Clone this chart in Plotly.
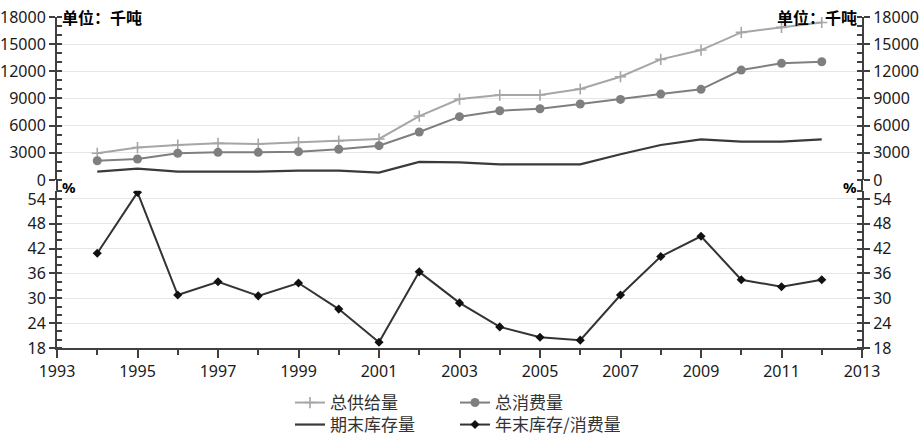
import plotly.graph_objects as go

years = list(range(1994, 2013))
supply = [2950, 3580, 3860, 4050, 3970, 4160, 4300, 4530, 7060, 8940, 9380, 9380,
          10050, 11400, 13320, 14350, 16300, 16850, 17400]
consumption = [2130, 2320, 2950, 3050, 3050, 3130, 3390, 3790, 5300, 6990, 7650, 7870,
               8390, 8900, 9490, 10010, 12140, 12880, 13060]
inventory = [920, 1250, 920, 920, 920, 1030, 1030, 810, 1990, 1950, 1730, 1730,
             1730, 2840, 3860, 4490, 4230, 4230, 4490]
ratio = [40.9, 55.6, 30.8, 34.0, 30.6, 33.7, 27.4, 19.4, 36.4, 28.9, 23.1, 20.6,
         19.9, 30.8, 40.1, 45.0, 34.5, 32.8, 34.5]

names = ["总供给量", "总消费量", "期末库存量", "年末库存/消费量"]
unit_label = "单位：千吨"
pct_label = "%"

FONT = "Noto Sans, Open Sans, Liberation Sans, sans-serif"
CJK = "Noto Sans CJK SC, sans-serif"
AX = "#404040"

fig = go.Figure()
fig.add_trace(go.Scatter(x=years, y=supply, name=names[0], mode="lines+markers",
                         line=dict(color="#a6a6a6", width=2),
                         marker=dict(symbol="cross-thin", size=8, line=dict(color="#a6a6a6", width=1.6)),
                         legend="legend", yaxis="y"))
fig.add_trace(go.Scatter(x=years, y=consumption, name=names[1], mode="lines+markers",
                         line=dict(color="#7f7f7f", width=2),
                         marker=dict(symbol="circle", size=9, color="#7f7f7f"),
                         legend="legend", yaxis="y"))
fig.add_trace(go.Scatter(x=years, y=inventory, name=names[2], mode="lines",
                         line=dict(color="#3a3a3a", width=2.2),
                         legend="legend2", yaxis="y"))
fig.add_trace(go.Scatter(x=years, y=ratio, name=names[3], mode="lines+markers",
                         line=dict(color="#333333", width=2),
                         marker=dict(symbol="diamond", size=7, color="#111111"),
                         legend="legend2", yaxis="y2"))
# invisible copies for right-side axes
fig.add_trace(go.Scatter(x=years, y=supply, mode="lines", line=dict(width=0), opacity=0,
                         showlegend=False, hoverinfo="skip", yaxis="y3"))
fig.add_trace(go.Scatter(x=years, y=ratio, mode="lines", line=dict(width=0), opacity=0,
                         showlegend=False, hoverinfo="skip", yaxis="y4"))

top_dom = [0.5076, 1.0]
bot_dom = [0.0, 0.4752]

common_y = dict(showline=True, linecolor=AX, linewidth=2, ticks="outside", ticklen=6,
                tickwidth=2, tickcolor=AX, zeroline=False, tickformat="d",
                tickfont=dict(family=FONT, size=16, color="#1a1a1a"))

legend_common = dict(orientation="h", x=290 / 922, xref="container", xanchor="left",
                     yref="container", yanchor="middle",
                     entrywidth=120, entrywidthmode="pixels", bgcolor="rgba(0,0,0,0)",
                     font=dict(family=CJK, size=17, color="#333333"), itemwidth=30,
                     tracegroupgap=0)

fig.update_layout(
    width=922, height=438,
    margin=dict(l=57, r=60, t=17, b=90, autoexpand=False),
    paper_bgcolor="white", plot_bgcolor="white",
    showlegend=True,
    xaxis=dict(range=[1993, 2013], anchor="y2", tickmode="linear", tick0=1993, dtick=2,
               showline=True, linecolor=AX, linewidth=2, ticks="outside", ticklen=8,
               tickwidth=2, tickcolor=AX, showgrid=False, zeroline=False,
               minor=dict(dtick=1, ticks="outside", ticklen=5, tickwidth=2, tickcolor=AX),
               tickfont=dict(family=FONT, size=16, color="#1a1a1a")),
    yaxis=dict(domain=top_dom, range=[0, 18000], tickmode="linear", tick0=0, dtick=3000,
               showgrid=True, gridcolor="#e6e6e6", gridwidth=1,
               minor=dict(dtick=1000, ticks="inside", ticklen=5, tickwidth=2, tickcolor=AX,
                          showgrid=False),
               **common_y),
    yaxis2=dict(domain=bot_dom, range=[18, 56], tickmode="array",
                tickvals=[18, 24, 30, 36, 42, 48, 54],
                showgrid=True, gridcolor="#e6e6e6", gridwidth=1,
                minor=dict(dtick=2, tick0=18, ticks="inside", ticklen=5, tickwidth=2, tickcolor=AX,
                           showgrid=False),
                **common_y),
    yaxis3=dict(domain=top_dom, range=[0, 18000], overlaying="y", side="right", anchor="x",
                tickmode="linear", tick0=0, dtick=3000, showgrid=False,
                minor=dict(dtick=1000, ticks="inside", ticklen=5, tickwidth=2, tickcolor=AX),
                **common_y),
    yaxis4=dict(domain=bot_dom, range=[18, 56], overlaying="y2", side="right", anchor="x",
                tickmode="array", tickvals=[18, 24, 30, 36, 42, 48, 54], showgrid=False,
                minor=dict(dtick=2, tick0=18, ticks="inside", ticklen=5, tickwidth=2, tickcolor=AX),
                **common_y),
    legend=dict(y=1 - 403 / 438, **legend_common),
    legend2=dict(y=1 - 425 / 438, **legend_common),
)

# continuous vertical axis lines bridging the gap between panels
for xp in (0, 1):
    fig.add_shape(type="line", xref="paper", yref="paper", x0=xp, x1=xp,
                  y0=bot_dom[1], y1=top_dom[0], line=dict(color=AX, width=2))

fig.add_annotation(text=unit_label, xref="paper", yref="paper", x=0.004, y=1.0,
                   xanchor="left", yanchor="middle", showarrow=False,
                   font=dict(family=CJK, size=16, color="#000000", weight="bold"))
fig.add_annotation(text=unit_label, xref="paper", yref="paper", x=0.996, y=1.0,
                   xanchor="right", yanchor="middle", showarrow=False,
                   font=dict(family=CJK, size=16, color="#000000", weight="bold"))
fig.add_annotation(text=pct_label, xref="paper", yref="paper", x=0.004, y=bot_dom[1] + 0.012,
                   xanchor="left", yanchor="middle", showarrow=False,
                   font=dict(family=FONT, size=15, color="#000000", weight="bold"))
fig.add_annotation(text=pct_label, xref="paper", yref="paper", x=0.996, y=bot_dom[1] + 0.012,
                   xanchor="right", yanchor="middle", showarrow=False,
                   font=dict(family=FONT, size=15, color="#000000", weight="bold"))

fig.write_html("out.html")
